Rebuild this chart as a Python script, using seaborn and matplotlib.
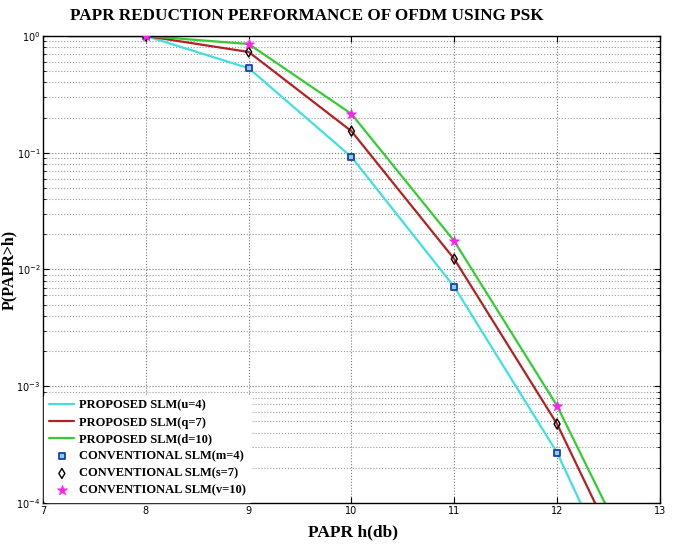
import matplotlib
matplotlib.use("Agg")
import matplotlib.pyplot as plt
import seaborn as sns
import pandas as pd

# PAPR threshold (dB)
papr_db = [7.25, 8, 9, 10, 11, 12, 13]
# proposed SLM curves (CCDF)
prop_u4 = [1.0, 1.0, 0.53, 0.092, 0.0071, 2.7e-4, 3.5e-6]
prop_q7 = [1.0, 1.0, 0.73, 0.153, 0.0123, 4.75e-4, 7.0e-6]
prop_d10 = [1.0, 1.0, 0.854, 0.215, 0.0175, 6.8e-4, 1.1e-5]

# conventional SLM markers
conv_x = [8, 9, 10, 11, 12]
conv_m4 = [1.0, 0.53, 0.092, 0.0071, 2.7e-4]
conv_s7 = [1.0, 0.73, 0.153, 0.0123, 4.75e-4]
conv_v10 = [1.0, 0.854, 0.215, 0.0175, 6.8e-4]

lines = pd.DataFrame({"x": papr_db, "u4": prop_u4, "q7": prop_q7, "d10": prop_d10})
marks = pd.DataFrame({"x": conv_x, "m4": conv_m4, "s7": conv_s7, "v10": conv_v10})

sns.set_style("ticks", {"text.color": "black", "axes.labelcolor": "black",
                        "xtick.color": "black", "ytick.color": "black"})
serif = ["Liberation Serif", "DejaVu Serif"]

fig = plt.figure(figsize=(6.74, 5.44), dpi=100)
ax = fig.add_axes([0.064, 0.0754, 0.915, 0.8584])

sns.lineplot(data=lines, x="x", y="u4", ax=ax, color="#40e0e0", lw=1.6, label="PROPOSED SLM(u=4)")
sns.lineplot(data=lines, x="x", y="q7", ax=ax, color="#b22222", lw=1.6, label="PROPOSED SLM(q=7)")
sns.lineplot(data=lines, x="x", y="d10", ax=ax, color="#33cc33", lw=1.6, label="PROPOSED SLM(d=10)")

sns.scatterplot(data=marks, x="x", y="m4", ax=ax, marker="s", s=22, facecolor="#7fd4e8",
                edgecolor="#1f3fa8", linewidth=1.3, label="CONVENTIONAL SLM(m=4)", zorder=5)
sns.scatterplot(data=marks, x="x", y="s7", ax=ax, marker="d", s=26, facecolor="none",
                edgecolor="black", linewidth=1.0, label="CONVENTIONAL SLM(s=7)", zorder=5)
sns.scatterplot(data=marks, x="x", y="v10", ax=ax, marker="*", s=55, color="#ff22ee",
                edgecolor="#ff22ee", label="CONVENTIONAL SLM(v=10)", zorder=5)

ax.set_yscale("log")
ax.set_xlim(7, 13)
ax.set_ylim(1e-4, 1)
ax.set_xticks(range(7, 14))
ax.grid(True, which="major", ls=":", color="#777777", lw=0.8)
ax.grid(True, which="minor", axis="y", ls=":", color="#999999", lw=0.8)
ax.tick_params(which="both", direction="in", top=True, right=True, labelsize=7, colors="black", pad=2)
ax.tick_params(which="major", length=4)
ax.tick_params(which="minor", length=2)
for sp in ax.spines.values():
    sp.set_color("black")
    sp.set_linewidth(1.0)

ax.set_xlabel("PAPR h(db)", family=serif, fontweight="bold", fontsize=12.5, color="black")
ax.xaxis.set_label_coords(0.502, -0.045)
ax.set_ylabel("P(PAPR>h)", family=serif, fontweight="bold", fontsize=11.5, color="black")
ax.yaxis.set_label_coords(-0.043, 0.5)
fig.text(0.455, 0.971, "PAPR REDUCTION PERFORMANCE OF OFDM USING PSK", family=serif,
         fontweight="bold", fontsize=12.3, ha="center", va="center", color="black")

leg = ax.legend(loc="lower left", prop={"family": serif, "weight": "bold", "size": 9},
                frameon=True, facecolor="white", edgecolor="white", framealpha=1,
                borderaxespad=0.1, handlelength=2.0, handletextpad=0.4, labelspacing=0.4)
for t in leg.get_texts():
    t.set_color("black")

fig.savefig("out.png", dpi=100)
